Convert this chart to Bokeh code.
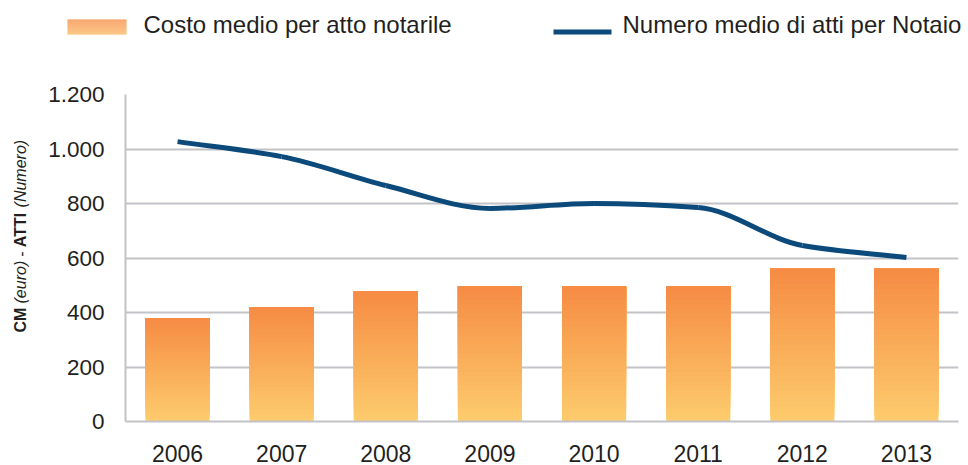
import math
from bokeh.plotting import figure
from bokeh.layouts import column, row
from bokeh.models import FactorRange, Range1d, FixedTicker, Label, BoxAnnotation
from bokeh.embed import file_html
from bokeh.resources import INLINE

# ---- data ----
years = ["2006", "2007", "2008", "2009", "2010", "2011", "2012", "2013"]
costo_medio = [378, 418, 477, 495, 495, 495, 561, 561]
atti_medi = [1027, 972, 866, 782, 800, 785, 646, 602]
y_ticks = [0, 200, 400, 600, 800, 1000, 1200]
y_tick_labels = ["0", "200", "400", "600", "800", "1.000", "1.200"]
legend_labels = ["Costo medio per atto notarile", "Numero medio di atti per Notaio"]
y_label_parts = [("CM", "bold"), ("(euro)", "italic"), ("-", "normal"),
                 ("ATTI", "bold"), ("(Numero)", "italic")]

# ---- style ----
FONT = "Liberation Sans"
TEXT = "#231F20"
GRID = "#C3C3C7"
LINE = "#0B4A7B"
BAR_TOP = (0xF6, 0x8C, 0x45)
BAR_BOTTOM = (0xFD, 0xCB, 0x6C)

W, H = 968, 465
LEG_H = 60      # legend strip height
YL_W = 40       # y-title strip width


def mix(c1, c2, t):
    return "#%02x%02x%02x" % tuple(int(round(a + (b - a) * t)) for a, b in zip(c1, c2))


def blank(width, height):
    f = figure(width=width, height=height, x_range=Range1d(0, 1), y_range=Range1d(0, 1),
               x_axis_type=None, y_axis_type=None, output_backend="svg",
               toolbar_location=None, min_border=0)
    f.outline_line_color = None
    f.background_fill_color = None
    f.border_fill_color = "white"
    f.grid.visible = False
    return f


# ---- main chart ----
p = figure(x_range=FactorRange(factors=years), y_range=Range1d(0, 1200),
           width=W - YL_W, height=H - LEG_H, output_backend="svg", toolbar_location=None,
           min_border_left=125 - YL_W, min_border_right=10, min_border_top=94 - LEG_H,
           min_border_bottom=H - 421)
p.outline_line_color = None
p.background_fill_color = "white"
p.border_fill_color = "white"

p.xgrid.grid_line_color = None
p.ygrid.grid_line_color = GRID
p.ygrid.grid_line_width = 2
p.ygrid.ticker = FixedTicker(ticks=y_ticks)

p.yaxis.ticker = FixedTicker(ticks=y_ticks)
p.yaxis.major_label_overrides = {t: l for t, l in zip(y_ticks, y_tick_labels)}
p.yaxis.axis_line_color = GRID
p.yaxis.axis_line_width = 2
p.yaxis.major_tick_line_color = None
p.yaxis.minor_tick_line_color = None
p.yaxis.major_label_text_font = FONT
p.yaxis.major_label_text_font_size = "22.5px"
p.yaxis.major_label_text_color = TEXT
p.yaxis.major_label_standoff = 15

p.xaxis.axis_line_color = GRID
p.xaxis.axis_line_width = 2
p.xaxis.major_tick_line_color = None
p.xaxis.minor_tick_line_color = None
p.xaxis.major_label_text_font = FONT
p.xaxis.major_label_text_font_size = "23px"
p.xaxis.major_label_text_color = TEXT
p.xaxis.major_label_standoff = 17

# bars with vertical gradient (layered, each layer covers the rest of the bar)
N = 30
for k in range(N):
    t = k / (N - 1)
    col = mix(BAR_BOTTOM, BAR_TOP, t)
    bottoms = [v * k / N for v in costo_medio]
    p.vbar(x=years, top=costo_medio, bottom=bottoms, width=0.615,
           fill_color=col, line_color=None)

# smooth line: monotone cubic Bezier through the data points
xs = [i + 0.5 for i in range(len(years))]
n = len(xs)
d = [atti_medi[i + 1] - atti_medi[i] for i in range(n - 1)]
m = [d[0]] + [0.0 if d[i - 1] * d[i] <= 0 else 2 * d[i - 1] * d[i] / (d[i - 1] + d[i])
              for i in range(1, n - 1)] + [d[-1]]
bx0, by0, bx1, by1, cx0, cy0, cx1, cy1 = [], [], [], [], [], [], [], []
for i in range(n - 1):
    bx0.append(xs[i]); by0.append(atti_medi[i])
    bx1.append(xs[i + 1]); by1.append(atti_medi[i + 1])
    cx0.append(xs[i] + 1 / 3); cy0.append(atti_medi[i] + m[i] / 3)
    cx1.append(xs[i + 1] - 1 / 3); cy1.append(atti_medi[i + 1] - m[i + 1] / 3)
p.bezier(x0=bx0, y0=by0, x1=bx1, y1=by1, cx0=cx0, cy0=cy0, cx1=cx1, cy1=cy1,
         line_color=LINE, line_width=5)

# ---- legend strip ----
leg = blank(W, LEG_H)
SW_TOP, SW_BOT = 19, 34
for k in range(SW_BOT - SW_TOP):
    t = k / (SW_BOT - SW_TOP - 1)
    leg.add_layout(BoxAnnotation(left=67, right=126,
                                 bottom=LEG_H - SW_BOT + k, top=LEG_H - SW_BOT + k + 1,
                                 left_units="screen", right_units="screen",
                                 bottom_units="screen", top_units="screen",
                                 fill_color=mix(BAR_BOTTOM, BAR_TOP, 0.35 + 0.65 * t),
                                 fill_alpha=1, line_color=None, line_alpha=0))
leg.add_layout(BoxAnnotation(left=553, right=611, bottom=LEG_H - 34, top=LEG_H - 29,
                             left_units="screen", right_units="screen",
                             bottom_units="screen", top_units="screen",
                             fill_color=LINE, fill_alpha=1, line_color=None, line_alpha=0))
for lx, txt in zip([143, 622], legend_labels):
    leg.add_layout(Label(x=lx, y=LEG_H - 24, x_units="screen", y_units="screen", text=txt,
                         text_font=FONT, text_font_size="24px", text_color=TEXT,
                         text_align="left", text_baseline="middle"))

# ---- y-axis title strip, mixed styles ----
yl = blank(YL_W, H - LEG_H)
FS = 16
widths = {"CM": 1.555, "(euro)": 2.667, "-": 0.333, "ATTI": 2.222, "(Numero)": 4.222}
space = 0.26
yy = 89
for txt, style in y_label_parts:
    yl.add_layout(Label(x=20, y=yy, x_units="screen", y_units="screen", text=txt,
                        angle=math.pi / 2, text_font=FONT, text_font_size=f"{FS}px",
                        text_font_style=style, text_color=TEXT,
                        text_align="left", text_baseline="middle"))
    yy += (widths[txt] + space) * FS

layout = column(leg, row(yl, p, spacing=0), spacing=0)
open("out.html", "w").write(file_html(layout, INLINE))
